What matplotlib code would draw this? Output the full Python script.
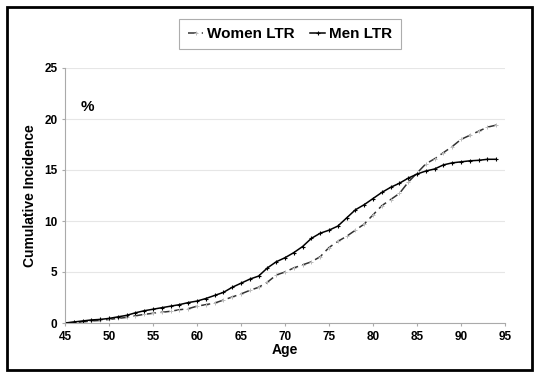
import matplotlib.pyplot as plt
from matplotlib.patches import Rectangle

plt.rcParams['font.family'] = ['Liberation Sans Narrow', 'Liberation Sans', 'DejaVu Sans']

ages = list(range(45, 95))

women = [0, 0.05, 0.1, 0.2, 0.25, 0.35, 0.45, 0.55, 0.7, 0.85,
         0.95, 1.05, 1.15, 1.3, 1.4, 1.65, 1.8, 1.95, 2.25, 2.55,
         2.85, 3.2, 3.5, 4.0, 4.7, 5.0, 5.4, 5.7, 6.0, 6.5,
         7.4, 8.0, 8.5, 9.1, 9.7, 10.6, 11.5, 12.1, 12.7, 13.8,
         14.7, 15.6, 16.1, 16.7, 17.3, 18.0, 18.4, 18.8, 19.2, 19.4]

men = [0, 0.1, 0.2, 0.3, 0.35, 0.45, 0.6, 0.75, 1.0, 1.2,
       1.35, 1.5, 1.65, 1.8, 2.0, 2.15, 2.4, 2.7, 3.0, 3.5,
       3.9, 4.3, 4.6, 5.4, 6.0, 6.4, 6.9, 7.5, 8.3, 8.8,
       9.1, 9.5, 10.3, 11.1, 11.6, 12.2, 12.8, 13.3, 13.7, 14.2,
       14.6, 14.9, 15.1, 15.5, 15.7, 15.8, 15.9, 15.95, 16.05, 16.05]

fig = plt.figure(figsize=(5.4, 3.79), dpi=100)
ax = fig.add_axes([65 / 540, 1 - 323 / 379, 440 / 540, 255 / 379])

ax.plot(ages, women, color='#333333', lw=1.1, dashes=(6, 3),
        marker='+', ms=3, mew=0.7, mec='#bbbbbb', label='Women LTR')
ax.plot(ages, men, color='black', lw=1.1,
        marker='+', ms=3, mew=0.8, label='Men LTR')

ax.set_xlim(45, 95)
ax.set_ylim(0, 25)
ax.set_xticks(range(45, 96, 5))
ax.set_yticks(range(0, 26, 5))
ax.grid(axis='y', color='#e6e6e6', lw=0.8)
ax.set_axisbelow(True)
for s in ['top', 'right']:
    ax.spines[s].set_visible(False)
for s in ['left', 'bottom']:
    ax.spines[s].set_color('#aaaaaa')
ax.tick_params(length=2, color='#aaaaaa', labelsize=8.5)
for lab in ax.get_xticklabels() + ax.get_yticklabels():
    lab.set_fontweight('bold')

ax.set_xlabel('Age', fontsize=10, fontweight='bold', labelpad=0)
ax.set_ylabel('Cumulative Incidence', fontsize=10, fontweight='bold', labelpad=5)
ax.text(47.5, 21.2, '%', fontsize=11, fontweight='bold', ha='center', va='center')

leg = fig.legend(loc='center', bbox_to_anchor=(290 / 540, 1 - 34 / 379), ncol=2,
                 frameon=True, fancybox=False, edgecolor='#999999',
                 prop={'size': 11, 'weight': 'bold'}, handlelength=1.0,
                 handletextpad=0.25, columnspacing=1.0, borderpad=0.55)
leg.get_frame().set_linewidth(0.8)

fig.patches.append(Rectangle((7 / 540, 1 - 370 / 379), 525 / 540, 363 / 379,
                             transform=fig.transFigure, fill=False,
                             edgecolor='black', lw=2))

fig.savefig('out.png', dpi=100)
